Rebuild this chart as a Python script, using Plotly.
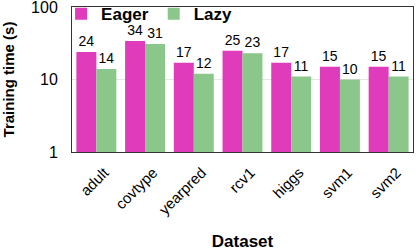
import plotly.graph_objects as go

datasets = ["adult", "covtype", "yearpred", "rcv1", "higgs", "svm1", "svm2"]
eager = [24, 34, 17, 25, 17, 15, 15]
lazy = [14, 31, 12, 23, 11, 10, 11]

FONT = "Liberation Sans, Arial, sans-serif"

fig = go.Figure()
fig.add_trace(go.Bar(name="Eager", x=datasets, y=eager, marker_color="#E03BBA",
                     marker_line_width=0, text=eager, textposition="outside",
                     textfont=dict(size=14, color="black"), cliponaxis=False))
fig.add_trace(go.Bar(name="Lazy", x=datasets, y=lazy, marker_color="#8BC78B",
                     marker_line_width=0, text=lazy, textposition="outside",
                     textfont=dict(size=14, color="black"), cliponaxis=False))

fig.update_layout(
    width=416, height=251,
    margin=dict(l=72, r=3, t=7, b=99, autoexpand=False),
    barmode="group", bargap=0.18, bargroupgap=0,
    plot_bgcolor="white", paper_bgcolor="white",
    font=dict(family=FONT, color="black", size=14),
    showlegend=True,
    legend=dict(orientation="h", x=-0.032, y=1.075, xanchor="left", yanchor="top",
                bgcolor="rgba(255,255,255,0)", font=dict(size=17, family=FONT, weight="bold"),
                itemwidth=30, tracegroupgap=0),
    uniformtext=dict(minsize=14, mode="show"),
)
fig.update_xaxes(tickangle=-45, tickfont=dict(size=15), showline=True, linecolor="#333",
                 linewidth=1, mirror=True, ticks="", automargin=False,
                 ticklabelshift=8, ticklabelstandoff=5,
                 title=dict(text="<b>Dataset</b>", font=dict(size=17), standoff=26))
fig.update_yaxes(type="log", range=[-0.0005, 2.0005], tickvals=[1, 10, 100], ticktext=["1", "10", "100"],
                 tickfont=dict(size=16), showline=True, linecolor="#333", linewidth=1,
                 mirror=True, ticks="", showgrid=True, gridcolor="#e6e6e6", automargin=False,
                 ticklabeloverflow="allow", ticklabelstandoff=10,
                 title=dict(text="<b>Training time (s)</b>", font=dict(size=15), standoff=14))

fig.write_html("out.html", config={"displayModeBar": False},
               post_script="document.body.style.margin='0';document.body.style.overflow='hidden';")
